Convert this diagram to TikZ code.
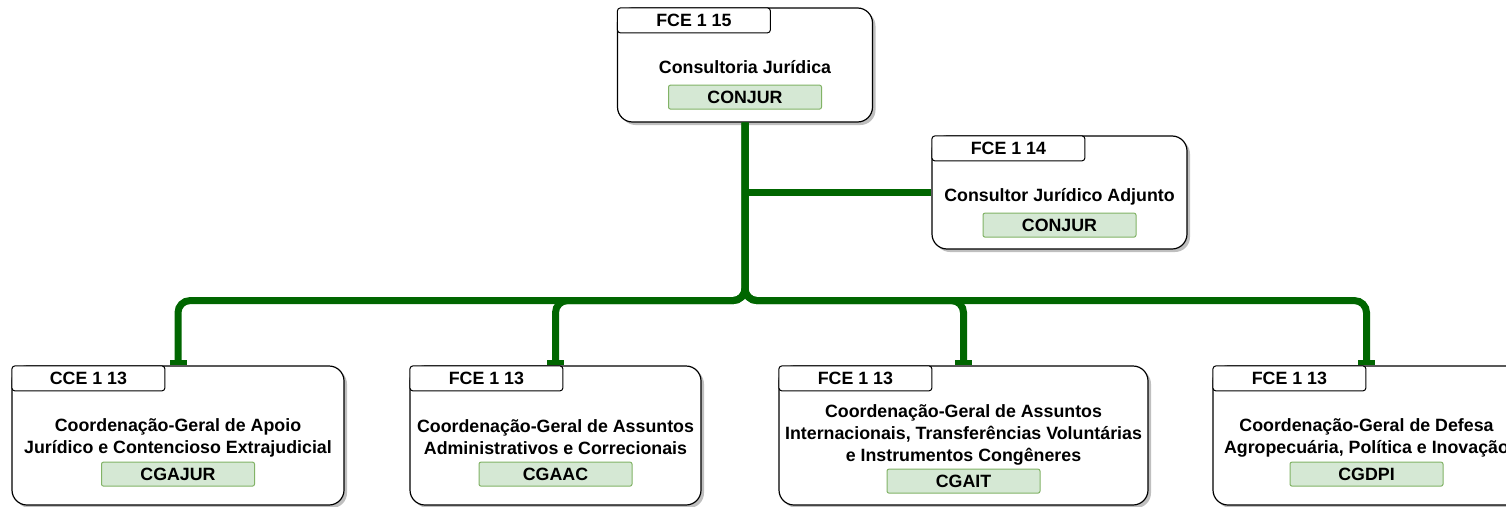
\documentclass[tikz,border=0pt]{standalone}
\usepackage{fontspec}
\setmainfont{Liberation Sans}
\usetikzlibrary{arrows.meta, positioning, shadows}
\definecolor{linkgreen}{RGB}{0,102,0}
\definecolor{codefill}{HTML}{D5E8D4}
\definecolor{codedraw}{HTML}{82B366}

\begin{document}
\begin{tikzpicture}[
    x=1pt, y=-1pt,
    font=\fontsize{17.8}{22}\selectfont\bfseries,
    unit/.style={draw, fill=white, line width=1.2pt, rounded corners=15pt,
        drop shadow={shadow xshift=3pt, shadow yshift=-3pt, opacity=0.25, fill=black}},
    tab/.style={draw, fill=white, line width=1pt, rounded corners=3pt, anchor=north west,
        minimum width=153pt, minimum height=25pt, inner sep=0pt},
    title/.style={align=center, inner sep=0pt, yshift=-2pt},
    code/.style={draw=codedraw, fill=codefill, line width=1pt, rounded corners=2pt,
        minimum width=153pt, minimum height=24pt, inner sep=0pt},
    link/.style={draw=linkgreen, line width=7pt, rounded corners=12pt,
        -{Rectangle[length=5pt, width=17pt]}}
]
    \useasboundingbox (0,0) rectangle (1506,506);

    % top
    \node[unit, minimum width=255pt, minimum height=114pt] (consultoria) at (745,65) {};
    \node[tab] (consultoria-tab) at (consultoria.north west) {FCE 1 15};
    \node[title] (consultoria-title) at (consultoria.center) {Consultoria Jurídica};
    \node[code, above=13pt of consultoria.south] (consultoria-code) {CONJUR};

    % adjunto
    \node[unit, minimum width=255pt, minimum height=113pt] (adjunto) at (1059.5,192.5) {};
    \node[tab] (adjunto-tab) at (adjunto.north west) {FCE 1 14};
    \node[title, yshift=-2pt] (adjunto-title) at (adjunto.center) {Consultor Jurídico Adjunto};
    \node[code, above=12pt of adjunto.south] (adjunto-code) {CONJUR};

    % coordenacoes
    \node[unit, minimum width=332pt, minimum height=139pt] (cgajur) at (178,435.5) {};
    \node[tab] (cgajur-tab) at (cgajur.north west) {CCE 1 13};
    \node[title] (cgajur-title) at (cgajur.center) {Coordenação-Geral de Apoio\\Jurídico e Contencioso Extrajudicial};
    \node[code, above=19pt of cgajur.south] (cgajur-code) {CGAJUR};

    \node[unit, minimum width=291pt, minimum height=139pt] (cgaac) at (555.5,435.5) {};
    \node[tab] (cgaac-tab) at (cgaac.north west) {FCE 1 13};
    \node[title] (cgaac-title) at (cgaac.center) {Coordenação-Geral de Assuntos\\Administrativos e Correcionais};
    \node[code, above=19pt of cgaac.south] (cgaac-code) {CGAAC};

    \node[unit, minimum width=369pt, minimum height=139pt] (cgait) at (963.5,435.5) {};
    \node[tab] (cgait-tab) at (cgait.north west) {FCE 1 13};
    \node[title, yshift=3pt] (cgait-title) at (cgait.center) {Coordenação-Geral de Assuntos\\Internacionais, Transferências Voluntárias\\e Instrumentos Congêneres};
    \node[code, above=12pt of cgait.south] (cgait-code) {CGAIT};

    \node[unit, minimum width=307pt, minimum height=139pt] (cgdpi) at (1366.5,435.5) {};
    \node[tab] (cgdpi-tab) at (cgdpi.north west) {FCE 1 13};
    \node[title] (cgdpi-title) at (cgdpi.center) {Coordenação-Geral de Defesa\\Agropecuária, Política e Inovação};
    \node[code, above=19pt of cgdpi.south] (cgdpi-code) {CGDPI};

    % ligacoes
    \coordinate[below=178pt of consultoria.south] (bus);
    \coordinate (branch) at (consultoria.south |- adjunto.west);
    \draw[link, -] (branch) -- (adjunto.west);
    \draw[link] (consultoria.south) -- (bus) -| (cgajur.north);
    \draw[link] (consultoria.south) -- (bus) -| (cgaac.north);
    \draw[link] (consultoria.south) -- (bus) -| (cgait.north);
    \draw[link] (consultoria.south) -- (bus) -| (cgdpi.north);
\end{tikzpicture}
\end{document}
